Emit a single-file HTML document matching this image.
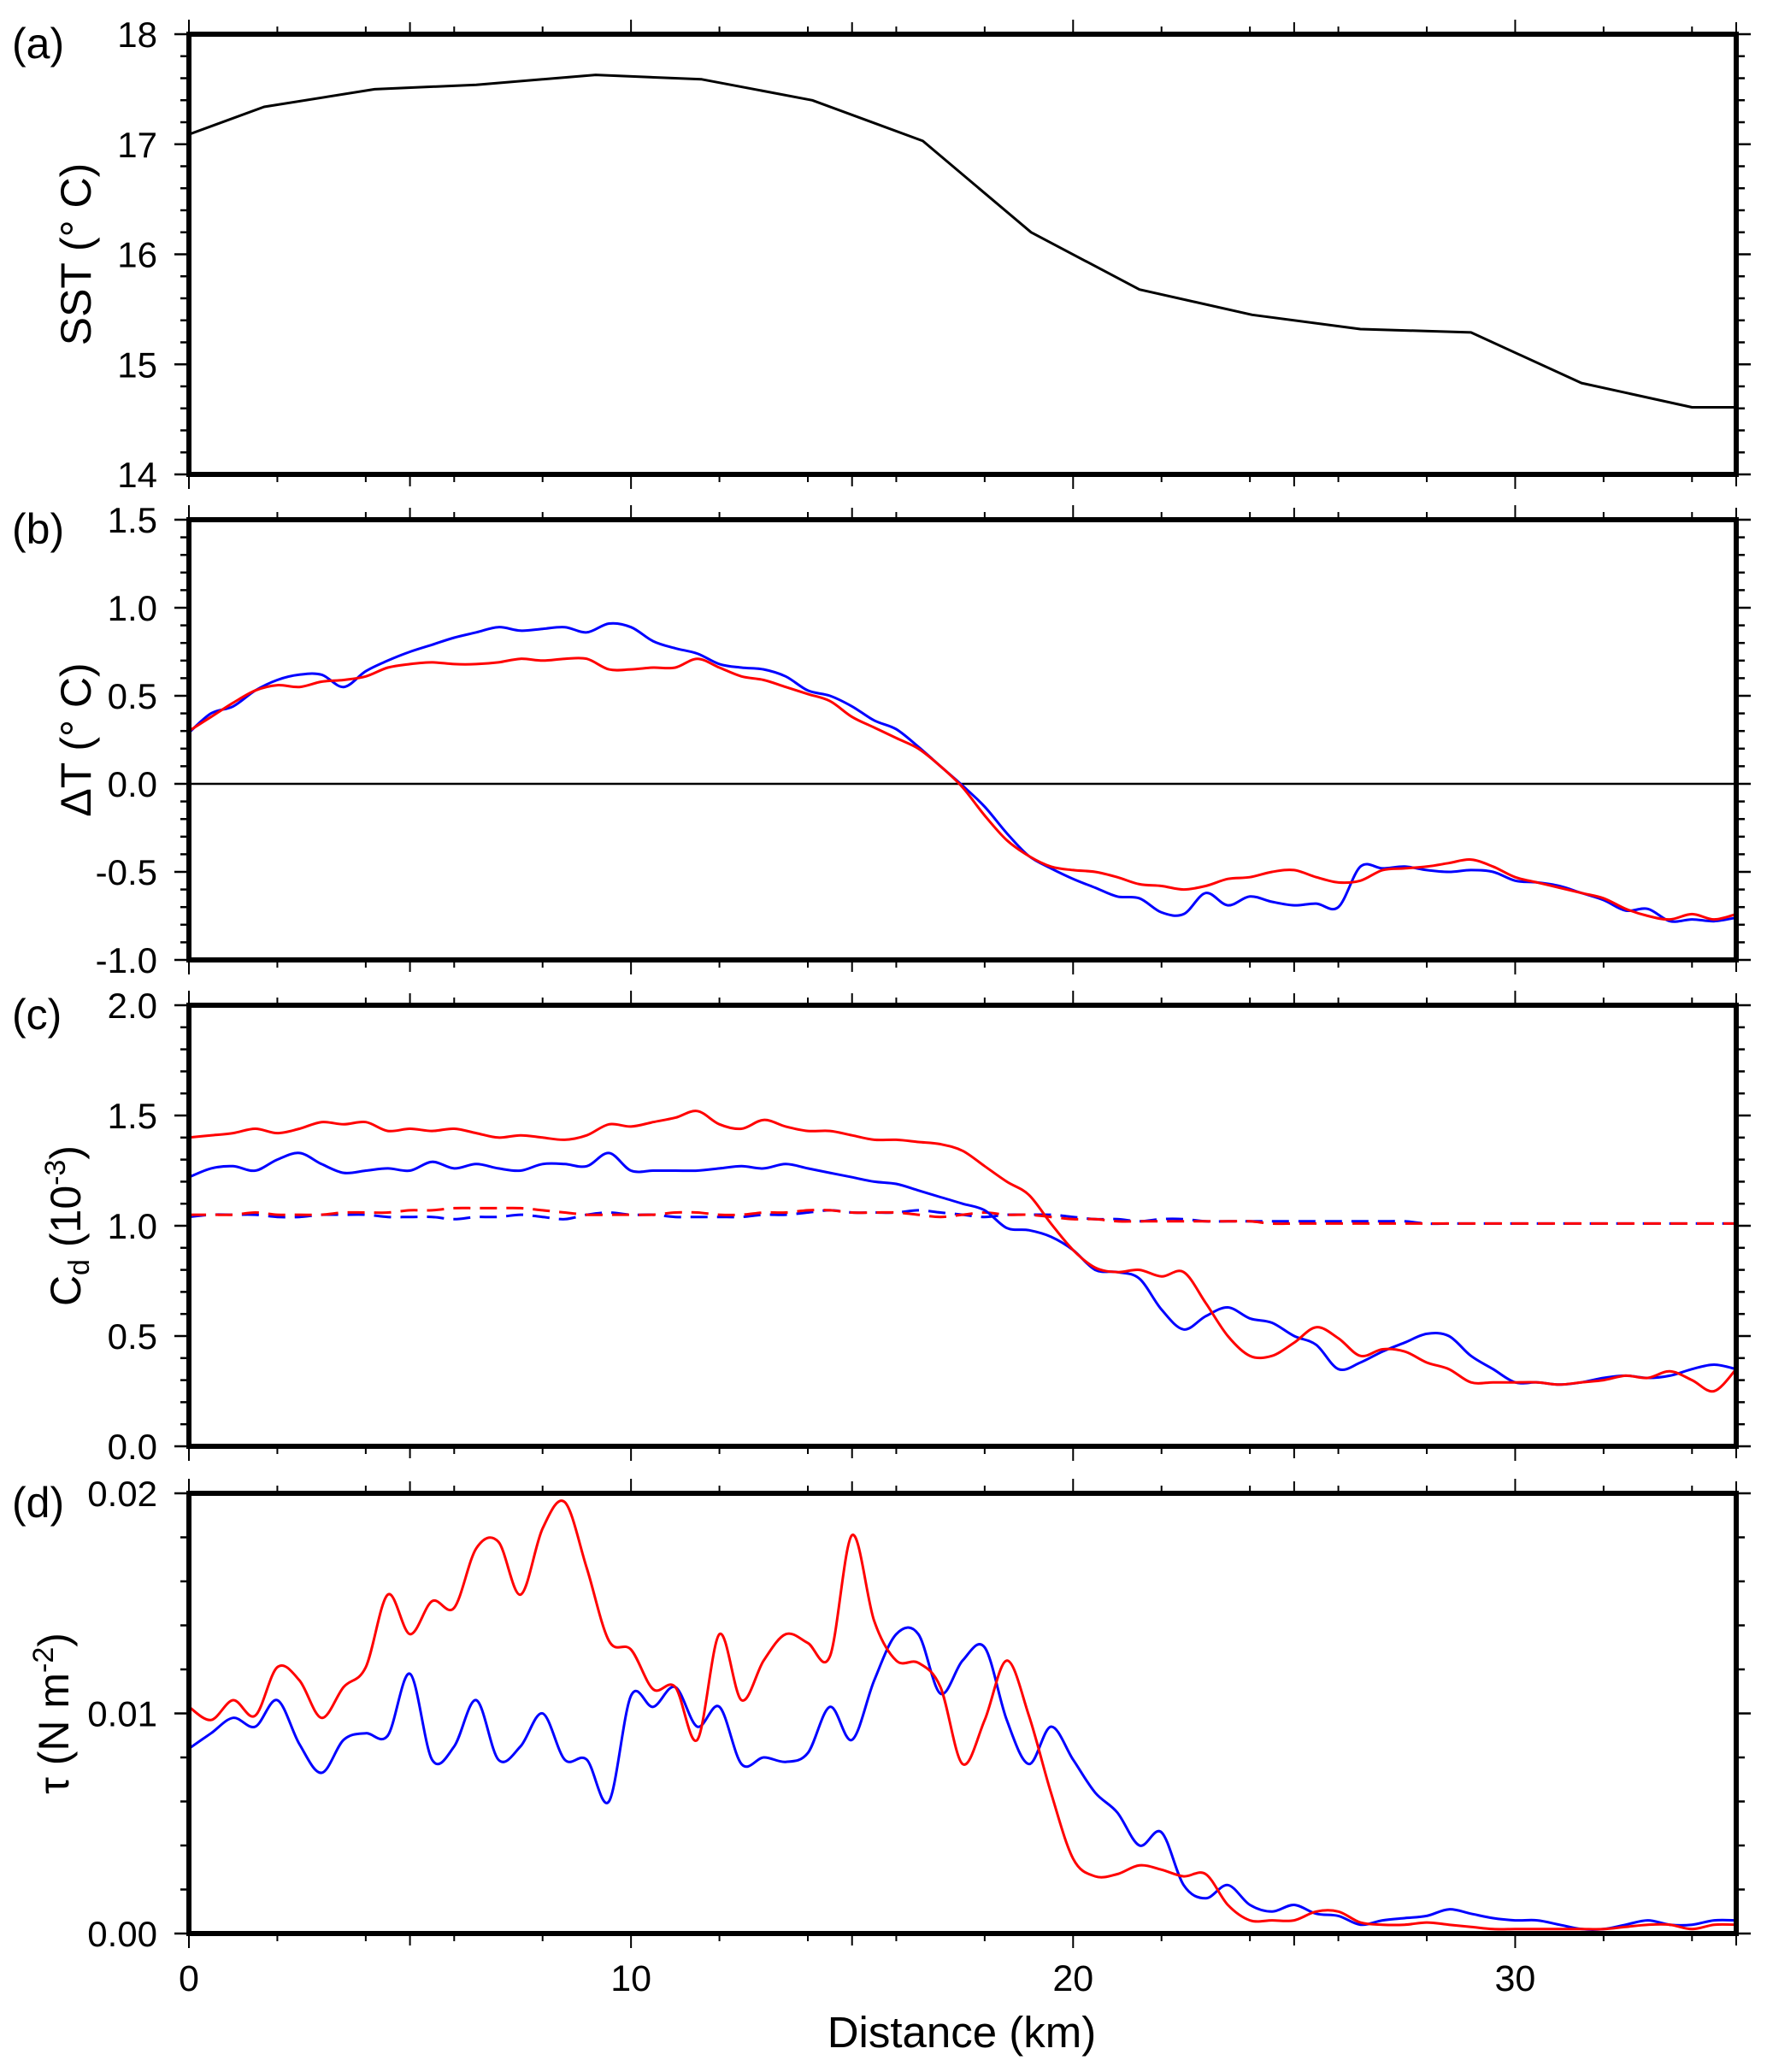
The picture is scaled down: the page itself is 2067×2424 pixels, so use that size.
<!DOCTYPE html>
<html><head><meta charset="utf-8">
<style>
html,body{margin:0;padding:0;background:#fff;}
svg{display:block;}
text{font-family:"Liberation Sans",Arial,sans-serif;fill:#000;}
</style></head>
<body>
<svg id="chart" width="2067" height="2424" viewBox="0 0 2067 2424" xmlns="http://www.w3.org/2000/svg"></svg>
<script>
// ---- data ----
const sstKm = [0,1.7,4.2,6.5,9.2,11.6,14.1,16.6,19.05,21.5,24.05,26.5,29.0,31.5,34.0,35];
const sstVal = [17.09,17.34,17.5,17.54,17.63,17.59,17.4,17.03,16.2,15.68,15.45,15.32,15.29,14.83,14.61,14.61];

const dtBlue = [0.29,0.40,0.44,0.53,0.59,0.62,0.62,0.55,0.64,0.70,0.75,0.79,0.83,0.86,0.89,0.87,0.88,0.89,0.86,0.91,0.89,0.81,0.77,0.74,0.68,0.66,0.65,0.61,0.53,0.50,0.44,0.36,0.31,0.21,0.10,-0.01,-0.13,-0.28,-0.41,-0.48,-0.54,-0.59,-0.64,-0.65,-0.73,-0.74,-0.62,-0.69,-0.64,-0.67,-0.69,-0.68,-0.70,-0.47,-0.48,-0.47,-0.49,-0.50,-0.49,-0.50,-0.55,-0.56,-0.58,-0.62,-0.66,-0.72,-0.71,-0.78,-0.77,-0.78,-0.76];
const dtRed = [0.30,0.38,0.46,0.53,0.56,0.55,0.58,0.59,0.61,0.66,0.68,0.69,0.68,0.68,0.69,0.71,0.70,0.71,0.71,0.65,0.65,0.66,0.66,0.71,0.66,0.61,0.59,0.55,0.51,0.47,0.38,0.32,0.26,0.20,0.10,-0.02,-0.18,-0.32,-0.41,-0.47,-0.49,-0.50,-0.53,-0.57,-0.58,-0.60,-0.58,-0.54,-0.53,-0.50,-0.49,-0.53,-0.56,-0.55,-0.49,-0.48,-0.47,-0.45,-0.43,-0.47,-0.53,-0.56,-0.59,-0.62,-0.65,-0.71,-0.75,-0.77,-0.74,-0.77,-0.74];

const cdRed = [1.40,1.41,1.42,1.44,1.42,1.44,1.47,1.46,1.47,1.43,1.44,1.43,1.44,1.42,1.40,1.41,1.40,1.39,1.41,1.46,1.45,1.47,1.49,1.52,1.46,1.44,1.48,1.45,1.43,1.43,1.41,1.39,1.39,1.38,1.37,1.34,1.27,1.20,1.14,1.01,0.89,0.81,0.79,0.80,0.77,0.79,0.65,0.50,0.41,0.41,0.47,0.54,0.49,0.41,0.44,0.43,0.38,0.35,0.29,0.29,0.29,0.29,0.28,0.29,0.30,0.32,0.31,0.34,0.30,0.25,0.35];
const cdBlue = [1.22,1.26,1.27,1.25,1.30,1.33,1.28,1.24,1.25,1.26,1.25,1.29,1.26,1.28,1.26,1.25,1.28,1.28,1.27,1.33,1.25,1.25,1.25,1.25,1.26,1.27,1.26,1.28,1.26,1.24,1.22,1.20,1.19,1.16,1.13,1.10,1.07,0.99,0.98,0.95,0.89,0.80,0.79,0.76,0.62,0.53,0.59,0.63,0.58,0.56,0.50,0.46,0.35,0.38,0.43,0.47,0.51,0.50,0.41,0.35,0.29,0.29,0.28,0.29,0.31,0.32,0.31,0.32,0.35,0.37,0.35];
const cdRedDash = [1.05,1.05,1.05,1.06,1.05,1.05,1.05,1.06,1.06,1.06,1.07,1.07,1.08,1.08,1.08,1.08,1.07,1.06,1.05,1.05,1.05,1.05,1.06,1.06,1.05,1.05,1.06,1.06,1.07,1.07,1.06,1.06,1.06,1.05,1.04,1.05,1.06,1.05,1.05,1.04,1.03,1.03,1.02,1.02,1.02,1.02,1.02,1.02,1.02,1.01,1.01,1.01,1.01,1.01,1.01,1.01,1.01,1.01,1.01,1.01,1.01,1.01,1.01,1.01,1.01,1.01,1.01,1.01,1.01,1.01,1.01];
const cdBlueDash = [1.04,1.05,1.05,1.05,1.04,1.04,1.05,1.05,1.05,1.04,1.04,1.04,1.03,1.04,1.04,1.05,1.04,1.03,1.05,1.06,1.05,1.05,1.04,1.04,1.04,1.04,1.05,1.05,1.06,1.07,1.06,1.06,1.06,1.07,1.06,1.05,1.04,1.05,1.05,1.05,1.04,1.03,1.03,1.02,1.03,1.03,1.02,1.02,1.02,1.02,1.02,1.02,1.02,1.02,1.02,1.02,1.01,1.01,1.01,1.01,1.01,1.01,1.01,1.01,1.01,1.01,1.01,1.01,1.01,1.01,1.01];

const tauRed = [0.0103,0.0097,0.0106,0.0099,0.0121,0.0115,0.0098,0.0112,0.0121,0.0154,0.0136,0.0151,0.0148,0.0175,0.0178,0.0154,0.0184,0.0196,0.0166,0.0133,0.0129,0.0111,0.0112,0.0088,0.0136,0.0106,0.0124,0.0136,0.0132,0.0126,0.0181,0.0142,0.0124,0.0123,0.0112,0.0077,0.0097,0.0124,0.0099,0.0064,0.0034,0.0026,0.0027,0.0031,0.0029,0.0026,0.0027,0.0013,0.0006,0.0006,0.0006,0.0010,0.0010,0.0005,0.0004,0.0004,0.0005,0.0004,0.0003,0.0002,0.0002,0.0002,0.0002,0.0002,0.0002,0.0003,0.0004,0.0004,0.0002,0.0004,0.0004];
const tauBlue = [0.0084,0.0091,0.0098,0.0094,0.0106,0.0086,0.0073,0.0088,0.0091,0.0090,0.0118,0.0079,0.0085,0.0106,0.0079,0.0085,0.0100,0.0079,0.0079,0.0060,0.0108,0.0103,0.0112,0.0094,0.0103,0.0077,0.0080,0.0078,0.0082,0.0103,0.0088,0.0115,0.0136,0.0136,0.0109,0.0124,0.0130,0.0097,0.0077,0.0094,0.0079,0.0064,0.0055,0.0040,0.0046,0.0022,0.0016,0.0022,0.0013,0.0010,0.0013,0.0009,0.0008,0.0004,0.0006,0.0007,0.0008,0.0011,0.0009,0.0007,0.0006,0.0006,0.0004,0.0002,0.0002,0.0004,0.0006,0.0004,0.0004,0.0006,0.0006];

const xTicks = [0,10,20,30];
const aTicks = ["14","15","16","17","18"];
const bTicks = ["-1.0","-0.5","0.0","0.5","1.0","1.5"];
const cTicks = ["0.0","0.5","1.0","1.5","2.0"];
const dTicks = ["0.00","0.01","0.02"];

// ---- layout ----
const NS = "http://www.w3.org/2000/svg";
const svg = document.getElementById('chart');
const X0 = 221, X1 = 2031, XMAX = 35;
const sx = v => X0 + (X1 - X0) * v / XMAX;
function el(tag, attrs, parent) {
  const e = document.createElementNS(NS, tag);
  for (const k in attrs) e.setAttribute(k, attrs[k]);
  (parent || svg).appendChild(e);
  return e;
}
const panels = [
  {id:'a', top:40, bot:555, ymin:14, ymax:18, major:1, minor:0.2, labels:aTicks, tx:106},
  {id:'b', top:608, bot:1123, ymin:-1, ymax:1.5, major:0.5, minor:0.1, labels:bTicks, tx:106},
  {id:'c', top:1176, bot:1692, ymin:0, ymax:2, major:0.5, minor:0.1, labels:cTicks, tx:94},
  {id:'d', top:1747, bot:2262, ymin:0, ymax:0.02, major:0.01, minor:0.002, labels:dTicks, tx:80}
];
function drawLine(g, p, xs, ys, color, dash, name, smooth) {
  const sy = v => p.bot - (p.bot - p.top) * (v - p.ymin) / (p.ymax - p.ymin);
  const pts = ys.map((v, i) => [sx(xs[i]), sy(v)]);
  let d = 'M' + pts[0][0].toFixed(1) + ' ' + pts[0][1].toFixed(1);
  for (let i = 1; i < pts.length; i++) {
    if (!smooth) { d += 'L' + pts[i][0].toFixed(1) + ' ' + pts[i][1].toFixed(1); continue; }
    const p0 = pts[Math.max(0, i - 2)], p1 = pts[i - 1], p2 = pts[i], p3 = pts[Math.min(pts.length - 1, i + 1)];
    const c1x = p1[0] + (p2[0] - p0[0]) / 6, c1y = p1[1] + (p2[1] - p0[1]) / 6;
    const c2x = p2[0] - (p3[0] - p1[0]) / 6, c2y = p2[1] - (p3[1] - p1[1]) / 6;
    d += 'C' + c1x.toFixed(1) + ' ' + c1y.toFixed(1) + ' ' + c2x.toFixed(1) + ' ' + c2y.toFixed(1) + ' ' + p2[0].toFixed(1) + ' ' + p2[1].toFixed(1);
  }
  const path = el('path', {d:d, fill:'none', stroke:color, 'stroke-width':3, 'stroke-linejoin':'round'}, g);
  if (dash) path.setAttribute('stroke-dasharray', '20 11');
  
  
}
const grid = ys => ys.map((_, i) => i * 0.5);

panels.forEach(p => {
  const g = el('g', {});
  
  
  const sy = v => p.bot - (p.bot - p.top) * (v - p.ymin) / (p.ymax - p.ymin);
  const cp = el('clipPath', {id:'clip' + p.id}, g);
  el('rect', {x:X0, y:p.top, width:X1 - X0, height:p.bot - p.top}, cp);
  const lines = el('g', {'clip-path':'url(#clip' + p.id + ')'}, g);
  
  

  if (p.id === 'a') drawLine(lines, p, sstKm, sstVal, '#000', false, 'sst-line', false);
  if (p.id === 'b') {
    const z = el('line', {x1:X0, x2:X1, y1:sy(0), y2:sy(0), stroke:'#000', 'stroke-width':2.5}, lines);
    
    
    drawLine(lines, p, grid(dtBlue), dtBlue, '#0000ff', false, 'delta-t-blue', true);
    drawLine(lines, p, grid(dtRed), dtRed, '#ff0000', false, 'delta-t-red', true);
  }
  if (p.id === 'c') {
    drawLine(lines, p, grid(cdBlueDash), cdBlueDash, '#0000ff', true, 'cd-blue-dashed', true);
    drawLine(lines, p, grid(cdRedDash), cdRedDash, '#ff0000', true, 'cd-red-dashed', true);
    drawLine(lines, p, grid(cdBlue), cdBlue, '#0000ff', false, 'cd-blue', true);
    drawLine(lines, p, grid(cdRed), cdRed, '#ff0000', false, 'cd-red', true);
  }
  if (p.id === 'd') {
    drawLine(lines, p, grid(tauBlue), tauBlue, '#0000ff', false, 'tau-blue', true);
    drawLine(lines, p, grid(tauRed), tauRed, '#ff0000', false, 'tau-red', true);
  }
  const fr = el('rect', {x:X0, y:p.top, width:X1 - X0, height:p.bot - p.top, fill:'none', stroke:'#000', 'stroke-width':6}, g);
  
  
  const n = Math.round((p.ymax - p.ymin) / p.minor);
  const per = Math.round(p.major / p.minor);
  for (let i = 0; i <= n; i++) {
    const y = sy(p.ymin + i * p.minor);
    const L = i % per === 0 ? 17 : 10;
    el('line', {x1:X0 - L, x2:X0, y1:y, y2:y, stroke:'#000', 'stroke-width':2.5}, g);
    el('line', {x1:X1, x2:X1 + L, y1:y, y2:y, stroke:'#000', 'stroke-width':2.5}, g);
  }
  p.labels.forEach((lab, i) => {
    const t = el('text', {x:184, y:sy(p.ymin + i * p.major) + 15, 'text-anchor':'end', 'font-size':42}, g);
    t.textContent = lab;
    
    
  });
  for (let k = 0; k <= XMAX; k += 1) {
    if (k % 2 !== 0 && k % 5 !== 0) continue;
    const x = sx(k);
    const L = k % 10 === 0 ? 17 : (k % 5 === 0 ? 14 : 9);
    el('line', {x1:x, x2:x, y1:p.top - L, y2:p.top, stroke:'#000', 'stroke-width':2}, g);
    el('line', {x1:x, x2:x, y1:p.bot, y2:p.bot + L, stroke:'#000', 'stroke-width':2}, g);
  }
  const pl = el('text', {x:14, y:p.top + 28, 'font-size':50}, g);
  pl.textContent = '(' + p.id + ')';
  
  
  const yc = (p.top + p.bot) / 2;
  const tt = el('text', {x:0, y:0, 'text-anchor':'middle', 'font-size':50, transform:'translate(' + p.tx + ',' + yc + ') rotate(-90)'}, g);
  
  
  if (p.id === 'a') tt.textContent = 'SST (° C)';
  if (p.id === 'b') tt.textContent = 'ΔT (° C)';
  if (p.id === 'c') {
    tt.appendChild(document.createTextNode('C'));
    const s1 = el('tspan', {'font-size':34, dy:10}, tt); s1.textContent = 'd';
    const s2 = el('tspan', {dy:-10}, tt); s2.textContent = ' (10';
    const s3 = el('tspan', {'font-size':34, dy:-18}, tt); s3.textContent = '-3';
    const s4 = el('tspan', {dy:18}, tt); s4.textContent = ')';
  }
  if (p.id === 'd') {
    tt.appendChild(document.createTextNode('τ (N m'));
    const s3 = el('tspan', {'font-size':34, dy:-18}, tt); s3.textContent = '-2';
    const s4 = el('tspan', {dy:18}, tt); s4.textContent = ')';
  }
});
xTicks.forEach(v => {
  const t = el('text', {x:sx(v), y:2329, 'text-anchor':'middle', 'font-size':43});
  t.textContent = v;
  
  
});
const xt = el('text', {x:1125, y:2395, 'text-anchor':'middle', 'font-size':51});
xt.textContent = 'Distance (km)';


</script>
</body></html>
